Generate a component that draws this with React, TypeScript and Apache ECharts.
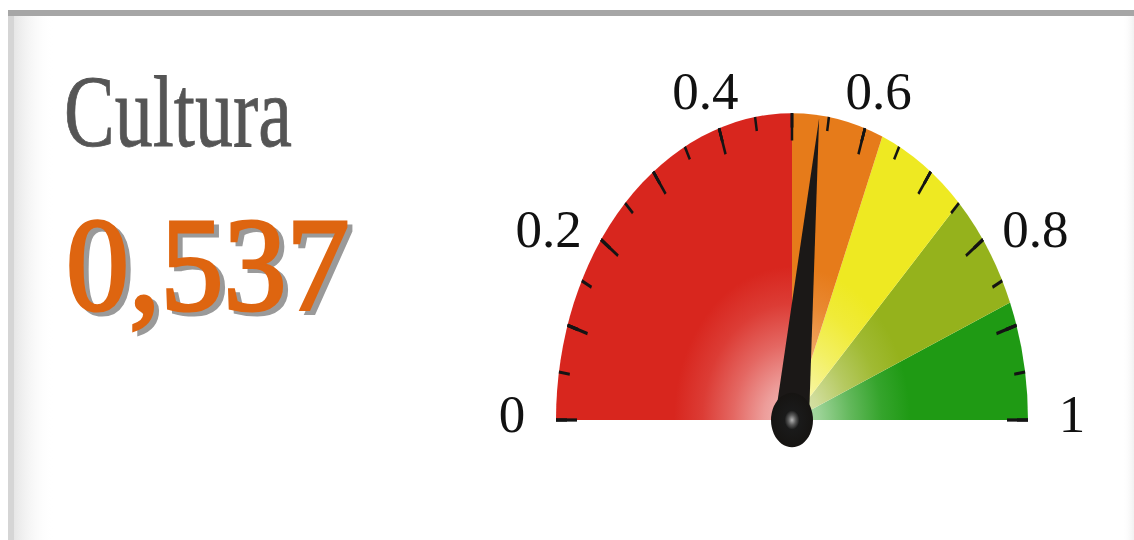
import React, { useEffect, useRef } from "react";
import * as echarts from "echarts";

// ---- data ----
const TITLE = "Cultura";
const VALUE = 0.537;
const VALUE_TEXT = "0,537";
const BAND_ENDS = [0.5, 0.625, 0.75, 0.875, 1];
const BAND_COLORS = ["#d8261e", "#e67b1a", "#eee922", "#95b21c", "#1f9a14"];
const TICK_VALUES = [0, 0.2, 0.4, 0.6, 0.8, 1];
const TICK_LABELS = ["0", "0.2", "0.4", "0.6", "0.8", "1"];

// ---- layout ----
const W = 1134;
const H = 540;
const STRETCH = 1.3;
const GCX = 792;
const GCY_PAGE = 420;
const GCY = GCY_PAGE / STRETCH;
const GR = 236;

function mixWhite(hex: string, t: number) {
  const n = parseInt(hex.slice(1), 16);
  const r = (n >> 16) & 255, g = (n >> 8) & 255, b = n & 255;
  const m = (c: number) => Math.round(c + (255 - c) * t);
  return `rgb(${m(r)},${m(g)},${m(b)})`;
}

function bandFill(c: string) {
  return {
    type: "radial",
    x: GCX,
    y: GCY,
    r: GR,
    global: true,
    colorStops: [
      { offset: 0, color: mixWhite(c, 0.7) },
      { offset: 0.12, color: mixWhite(c, 0.55) },
      { offset: 0.25, color: mixWhite(c, 0.3) },
      { offset: 0.38, color: mixWhite(c, 0.1) },
      { offset: 0.5, color: c },
      { offset: 1, color: c },
    ],
  };
}

export default function App() {
  const bgRef = useRef<HTMLDivElement>(null);
  const gaugeRef = useRef<HTMLDivElement>(null);

  useEffect(() => {
    const bg = echarts.init(bgRef.current!, null, { renderer: "svg" });
    const gauge = echarts.init(gaugeRef.current!, null, { renderer: "svg" });

    const labelEls = TICK_VALUES.map((v, i) => {
      const phi = Math.PI * (1 - v);
      const c = Math.cos(phi);
      const s = Math.sin(phi);
      const e = s * Math.max(0, Math.abs(c) - 0.3);
      return {
        type: "text",
        x: GCX + (280 + 70 * e) * c,
        y: 414 - 340 * s + 50 * e,
        style: {
          text: TICK_LABELS[i],
          font: '53px "Liberation Serif"',
          fill: "#111111",
          align: "center",
          verticalAlign: "middle",
        },
      };
    });

    const numberFont = '126px "Liberation Serif"';

    bg.setOption({
      animation: false,
      graphic: [
        { type: "rect", shape: { x: 8, y: 10, width: W - 8, height: 6 }, style: { fill: "#a6a6a6" } },
        { type: "rect", shape: { x: 8, y: 16, width: 6, height: H - 16 }, style: { fill: "#d5d5d5" } },
        {
          type: "rect",
          shape: { x: 14, y: 16, width: 40, height: H - 16 },
          style: {
            fill: new echarts.graphic.LinearGradient(0, 0, 1, 0, [
              { offset: 0, color: "#e6e6e6" },
              { offset: 1, color: "rgba(255,255,255,0)" },
            ]),
          },
        },
        {
          type: "rect",
          shape: { x: 1122, y: 16, width: 12, height: H - 16 },
          style: {
            fill: new echarts.graphic.LinearGradient(0, 0, 1, 0, [
              { offset: 0, color: "rgba(255,255,255,0)" },
              { offset: 1, color: "#f1f1f1" },
            ]),
          },
        },
        {
          type: "text",
          x: 64,
          y: 61,
          scaleY: 1.35,
          style: {
            text: TITLE,
            font: '76px "Liberation Serif"',
            fill: "#555555",
            stroke: "#555555",
            lineWidth: 0.6,
            align: "left",
            verticalAlign: "top",
          },
        },
        {
          type: "text",
          x: 71,
          y: 202,
          scaleY: 1.06,
          silent: true,
          style: {
            text: VALUE_TEXT,
            font: numberFont,
            fill: "#9a9a9a",
            stroke: "#9a9a9a",
            lineWidth: 3,
            align: "left",
            verticalAlign: "top",
          },
        },
        {
          type: "text",
          x: 66,
          y: 198,
          scaleY: 1.06,
          style: {
            text: VALUE_TEXT,
            font: numberFont,
            fill: "#de6510",
            stroke: "#de6510",
            lineWidth: 3,
            align: "left",
            verticalAlign: "top",
          },
        },
        ...labelEls,
      ],
    });

    gauge.setOption({
      animation: false,
      series: [
        {
          type: "gauge",
          center: [GCX, GCY],
          radius: GR,
          startAngle: 180,
          endAngle: 0,
          min: 0,
          max: 1,
          splitNumber: 10,
          axisLine: {
            show: true,
            roundCap: false,
            lineStyle: {
              width: GR,
              color: BAND_ENDS.map((e, i) => [e, bandFill(BAND_COLORS[i])]),
            },
          },
          splitLine: { show: true, distance: -GR, length: 21, lineStyle: { color: "#141414", width: 2.5 } },
          axisTick: { show: true, splitNumber: 2, distance: -GR, length: 11, lineStyle: { color: "#141414", width: 2.5 } },
          axisLabel: { show: false },
          pointer: {
            show: true,
            icon: "triangle",
            width: 34,
            length: "99%",
            offsetCenter: [0, 0],
            itemStyle: { color: "#1b1817" },
          },
          anchor: {
            show: true,
            showAbove: true,
            size: 42,
            itemStyle: {
              color: {
                type: "radial",
                x: 0.5,
                y: 0.5,
                r: 0.5,
                colorStops: [
                  { offset: 0, color: "#b5b5b5" },
                  { offset: 0.18, color: "#5a5a5a" },
                  { offset: 0.35, color: "#1a1a1a" },
                  { offset: 1, color: "#161412" },
                ],
              },
            },
          },
          title: { show: false },
          detail: { show: false },
          data: [{ value: VALUE }],
        },
      ],
    });

    return () => {
      bg.dispose();
      gauge.dispose();
    };
  }, []);

  return (
    <div style={{ position: "fixed", left: 0, top: 0, width: W, height: H, background: "#ffffff", overflow: "hidden" }}>
      <div ref={bgRef} style={{ position: "absolute", left: 0, top: 0, width: W, height: H }} />
      <div
        ref={gaugeRef}
        style={{
          position: "absolute",
          left: 0,
          top: 0,
          width: W,
          height: Math.round(H / STRETCH),
          transform: `scaleY(${STRETCH})`,
          transformOrigin: "0 0",
        }}
      />
    </div>
  );
}
